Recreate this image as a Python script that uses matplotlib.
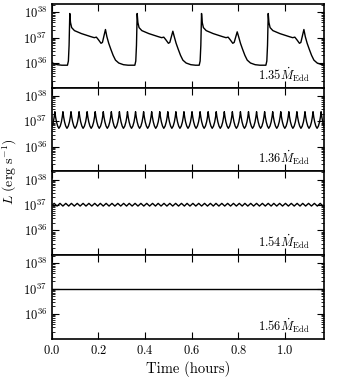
import matplotlib
matplotlib.use('Agg')
import matplotlib.pyplot as plt
import numpy as np
from matplotlib.ticker import LogLocator, NullFormatter, FixedLocator

plt.rcParams['font.family'] = 'serif'
plt.rcParams['font.serif'] = ['cmr10']
plt.rcParams['mathtext.fontset'] = 'cm'
plt.rcParams['axes.formatter.use_mathtext'] = True

# accretion rates shown in each panel
mdot_labels = ['1.35', '1.36', '1.54', '1.56']

# panel 1: bursts (peak times in hours, one burst shape)
burst_peaks = [-0.207, 0.077, 0.366, 0.642, 0.928]
burst_second = [2.0e37, 2.1e37, 1.8e37, 1.7e37, 2.1e37]
burst_dt = [-0.010, -0.006, -0.003, 0.000, 0.003, 0.008, 0.020, 0.050, 0.090,
            0.105, 0.114, 0.122, 0.134, 0.140, 0.153, 0.159, 0.167, 0.176,
            0.186, 0.196, 0.210, 0.230, 0.250]
burst_L = [8.2e35, 1.2e36, 5.0e36, 9.0e37, 4.0e37, 2.5e37, 1.9e37, 1.45e37, 1.1e37,
           1.0e37, 1.05e37, 8.5e36, 6.0e36, 6.5e36, None, 1.1e37, 6.0e36, 3.5e36,
           2.0e36, 1.3e36, 1.0e36, 8.6e35, 8.2e35]

# panel 2: fast oscillation
osc2_peaks = [-0.0216, 0.013, 0.0476, 0.0822, 0.1168, 0.1514, 0.186, 0.2206, 0.2552,
              0.2898, 0.3244, 0.359, 0.3936, 0.4282, 0.4628, 0.4974, 0.532, 0.5666,
              0.6012, 0.6358, 0.6704, 0.705, 0.7396, 0.7742, 0.8088, 0.8434, 0.878,
              0.9126, 0.9472, 0.9818, 1.0164, 1.051, 1.0856, 1.1202, 1.1548]
osc2_dt = [0.0, 0.003, 0.007, 0.012, 0.0173, 0.023, 0.028, 0.0318]
osc2_L = [2.4e37, 1.5e37, 9.5e36, 6.5e36, 5.3e36, 6.5e36, 9.5e36, 1.5e37]

# panel 3: small-amplitude oscillation
osc3_peaks = [-0.015, 0.010, 0.035, 0.060, 0.084, 0.109, 0.134, 0.159, 0.184, 0.208,
              0.233, 0.258, 0.283, 0.308, 0.332, 0.357, 0.382, 0.407, 0.432, 0.456,
              0.481, 0.506, 0.531, 0.556, 0.580, 0.605, 0.630, 0.655, 0.680, 0.704,
              0.729, 0.754, 0.779, 0.804, 0.828, 0.853, 0.878, 0.903, 0.928, 0.952,
              0.977, 1.002, 1.027, 1.052, 1.076, 1.101, 1.126, 1.151]
osc3_dt = [0.0, 0.0062, 0.0124, 0.0186]
osc3_L = [1.16e37, 1.03e37, 0.91e37, 1.03e37]

# panel 4: steady
steady_t = [0.0, 1.17]
steady_L = [1.0e37, 1.0e37]


def build(peaks, dt, L, second=None):
    tt, ll = [], []
    for i, p in enumerate(peaks):
        for d, v in zip(dt, L):
            if v is None:
                v = second[i]
            tt.append(p + d)
            ll.append(v)
    return tt, ll


series = [build(burst_peaks, burst_dt, burst_L, burst_second),
          build(osc2_peaks, osc2_dt, osc2_L),
          build(osc3_peaks, osc3_dt, osc3_L),
          (steady_t, steady_L)]

fig = plt.figure(figsize=(3.41, 3.79), dpi=100)
left, right, bottom, top = 0.152, 0.950, 0.106, 0.989
h = (top - bottom) / 4

for i in range(4):
    ax = fig.add_axes([left, top - (i + 1) * h, right - left, h])
    t, L = series[i]
    ax.plot(t, L, color='black', lw=1.0)
    ax.set_yscale('log')
    ax.set_ylim(1.05e35, 2.1e38)
    ax.set_xlim(0, 1.167)
    ax.yaxis.set_major_locator(LogLocator(base=10))
    ax.yaxis.set_minor_locator(LogLocator(base=10, subs=np.arange(2, 10)))
    ax.yaxis.set_minor_formatter(NullFormatter())
    ax.xaxis.set_major_locator(FixedLocator([0.0, 0.2, 0.4, 0.6, 0.8, 1.0]))
    ax.tick_params(which='both', direction='in', top=True, right=True, labelsize=9)
    ax.tick_params(which='major', length=5, width=0.8)
    ax.tick_params(which='minor', length=2.5, width=0.6)
    for s in ax.spines.values():
        s.set_linewidth(1.2)
    if i < 3:
        ax.set_xticklabels([])
    else:
        ax.set_xlabel('Time (hours)', fontsize=10.5, labelpad=3)
    ax.text(0.95, 0.05, r'$%s\dot{M}_{\rm Edd}$' % mdot_labels[i],
            transform=ax.transAxes, ha='right', va='bottom', fontsize=9)

fig.text(0.03, 0.547, r'$L\ (\mathrm{erg\ s^{-1}})$', rotation=90,
         ha='center', va='center', fontsize=10)

fig.savefig('out.png', dpi=100)
